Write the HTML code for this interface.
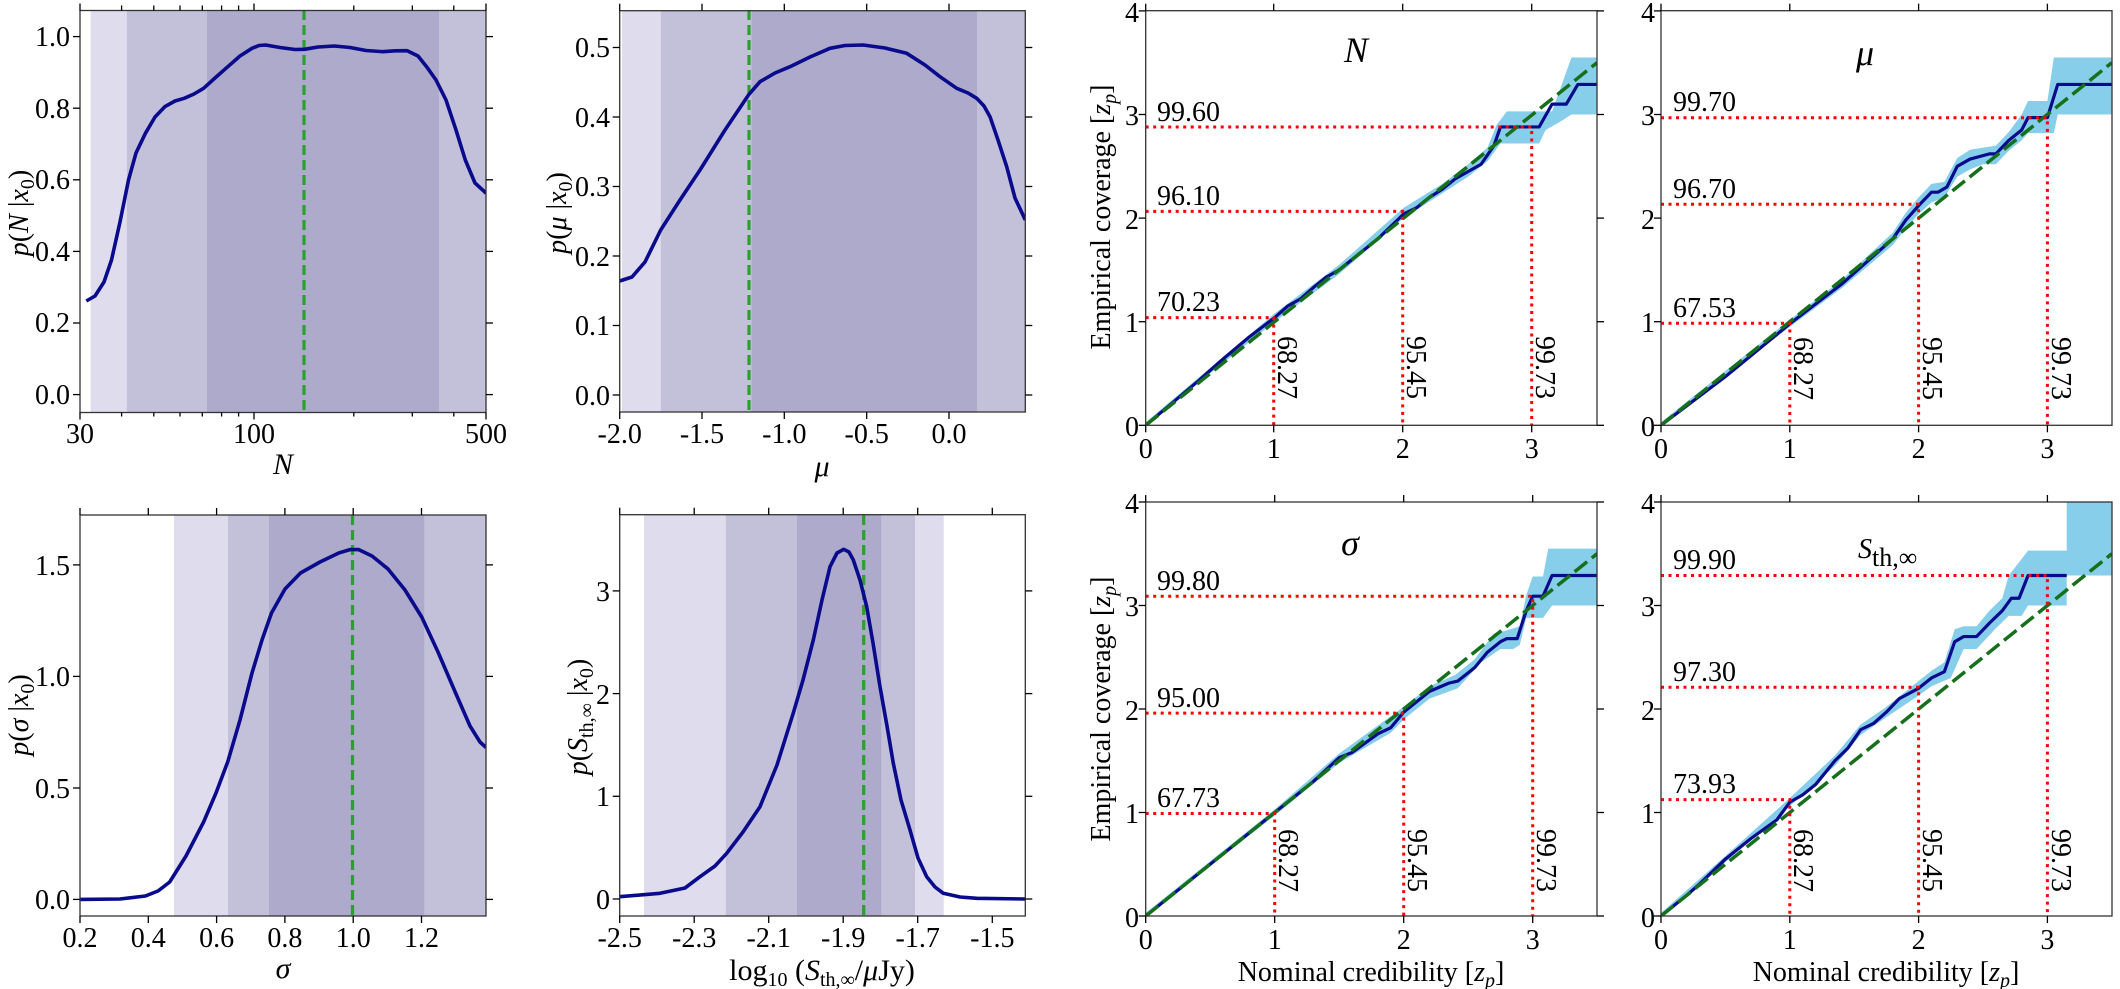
<!DOCTYPE html>
<html><head><meta charset="utf-8"><style>
html,body{margin:0;padding:0;background:#fff;}
svg{display:block;font-family:"Liberation Serif",serif;}
.t{font-size:28px;fill:#000;}
.it{font-style:italic;}
</style></head><body>
<svg width="2120" height="989" viewBox="0 0 2120 989" xmlns="http://www.w3.org/2000/svg">
<defs>
<clipPath id="c1"><rect x="80" y="10.5" width="406" height="402"/></clipPath>
<clipPath id="c2"><rect x="619.7" y="10.5" width="405.6" height="401.5"/></clipPath>
<clipPath id="c3"><rect x="80" y="515" width="406" height="401"/></clipPath>
<clipPath id="c4"><rect x="619.7" y="515" width="405.6" height="401"/></clipPath>
<clipPath id="c5"><rect x="1145.7" y="10.7" width="451.3" height="414.6"/></clipPath>
<clipPath id="c6"><rect x="1661" y="10.7" width="451" height="414.6"/></clipPath>
<clipPath id="c7"><rect x="1145.7" y="502" width="451.3" height="414"/></clipPath>
<clipPath id="c8"><rect x="1661" y="502" width="451" height="414"/></clipPath>
</defs>

<!-- ===== Panel 1: N posterior ===== -->
<g clip-path="url(#c1)">
<rect x="90.7" y="10" width="36" height="403" fill="#dfdded"/>
<rect x="126.7" y="10" width="80.3" height="403" fill="#c3c0da"/>
<rect x="207" y="10" width="232" height="403" fill="#adaacb"/>
<rect x="439" y="10" width="47" height="403" fill="#c3c0da"/>
<line x1="304" y1="10" x2="304" y2="413" stroke="#2ca02c" stroke-width="3.2" stroke-dasharray="10 5"/>
<polyline fill="none" stroke="#0a0a8c" stroke-width="3.6" stroke-linejoin="round" points="86.3,301 95,296 104,282 111.5,260 120,222 128.5,180 136,153 145.4,133.3 155,117 164.8,106.7 175,101 184.2,98.3 194,94 203.6,88.3 215,78 227.8,66.7 240,56 252,48.3 259,45.5 265.6,45 280,47.5 295,49.5 304.4,49.3 318,47 334.5,46 350,47.5 366,50.5 383,51.7 395,50.8 407.2,50.7 418,56 426.6,66.7 436,80 446,100 456,130 465.3,160 475,183 486.2,193.3"/>
</g>
<rect x="80" y="10.5" width="406" height="402" fill="none" stroke="#333" stroke-width="1.3"/>
<g stroke="#000" stroke-width="1.3">
<line x1="73" y1="394.6" x2="80" y2="394.6"/><line x1="73" y1="323" x2="80" y2="323"/><line x1="73" y1="251.4" x2="80" y2="251.4"/><line x1="73" y1="179.8" x2="80" y2="179.8"/><line x1="73" y1="108.2" x2="80" y2="108.2"/><line x1="73" y1="36.6" x2="80" y2="36.6"/>
<line x1="486" y1="394.6" x2="493" y2="394.6"/><line x1="486" y1="323" x2="493" y2="323"/><line x1="486" y1="251.4" x2="493" y2="251.4"/><line x1="486" y1="179.8" x2="493" y2="179.8"/><line x1="486" y1="108.2" x2="493" y2="108.2"/><line x1="486" y1="36.6" x2="493" y2="36.6"/>
<line x1="80" y1="412.5" x2="80" y2="419.5"/><line x1="254" y1="412.5" x2="254" y2="419.5"/><line x1="486" y1="412.5" x2="486" y2="419.5"/>
<line x1="121.6" y1="412.5" x2="121.6" y2="416.5"/><line x1="153.8" y1="412.5" x2="153.8" y2="416.5"/><line x1="180" y1="412.5" x2="180" y2="416.5"/><line x1="202.3" y1="412.5" x2="202.3" y2="416.5"/><line x1="221.6" y1="412.5" x2="221.6" y2="416.5"/><line x1="238.6" y1="412.5" x2="238.6" y2="416.5"/><line x1="353.8" y1="412.5" x2="353.8" y2="416.5"/><line x1="412.3" y1="412.5" x2="412.3" y2="416.5"/><line x1="453.8" y1="412.5" x2="453.8" y2="416.5"/>
<line x1="80" y1="10.5" x2="80" y2="3.5"/><line x1="254" y1="10.5" x2="254" y2="3.5"/><line x1="486" y1="10.5" x2="486" y2="3.5"/>
<line x1="121.6" y1="10.5" x2="121.6" y2="5.5"/><line x1="153.8" y1="10.5" x2="153.8" y2="5.5"/><line x1="180" y1="10.5" x2="180" y2="5.5"/><line x1="202.3" y1="10.5" x2="202.3" y2="5.5"/><line x1="221.6" y1="10.5" x2="221.6" y2="5.5"/><line x1="238.6" y1="10.5" x2="238.6" y2="5.5"/><line x1="353.8" y1="10.5" x2="353.8" y2="5.5"/><line x1="412.3" y1="10.5" x2="412.3" y2="5.5"/><line x1="453.8" y1="10.5" x2="453.8" y2="5.5"/>
</g>
<g class="t" text-anchor="end">
<text x="70" y="404">0.0</text><text x="70" y="332">0.2</text><text x="70" y="261">0.4</text><text x="70" y="189">0.6</text><text x="70" y="118">0.8</text><text x="70" y="46">1.0</text>
</g>
<g class="t" text-anchor="middle">
<text x="80" y="443">30</text><text x="254" y="443">100</text><text x="486" y="443">500</text>
<text x="283" y="474" class="it" font-size="30">N</text>
</g>
<text class="t" font-size="30" transform="translate(28,213) rotate(-90)" text-anchor="middle"><tspan class="it">p</tspan>(<tspan class="it">N</tspan> |<tspan class="it">x</tspan><tspan font-size="20" dy="6">0</tspan><tspan dy="-6">)</tspan></text>

<!-- ===== Panel 2: mu posterior ===== -->
<g clip-path="url(#c2)">
<rect x="622" y="10" width="38.7" height="403" fill="#dfdded"/>
<rect x="660.7" y="10" width="90.6" height="403" fill="#c3c0da"/>
<rect x="751.3" y="10" width="225.7" height="403" fill="#adaacb"/>
<rect x="977" y="10" width="49" height="403" fill="#c3c0da"/>
<line x1="749" y1="10" x2="749" y2="413" stroke="#2ca02c" stroke-width="3.2" stroke-dasharray="10 5"/>
<polyline fill="none" stroke="#0a0a8c" stroke-width="3.6" stroke-linejoin="round" points="619.7,281 632,277 645,262 660.7,230 680,200 700,170 725,130 749,94.3 760,81.7 775,73 790,66.7 810,57 830,48.3 845,45.5 863.3,45 885,48 906.7,53.3 925,65 940,76.7 956.7,88.3 968,93 976.7,98.3 984,106 990,116.7 998,140 1006.7,166.7 1015,198 1025.3,220"/>
</g>
<rect x="619.7" y="10.7" width="405.6" height="401.3" fill="none" stroke="#333" stroke-width="1.3"/>
<g stroke="#000" stroke-width="1.3">
<line x1="612.7" y1="395" x2="619.7" y2="395"/><line x1="612.7" y1="325.5" x2="619.7" y2="325.5"/><line x1="612.7" y1="256" x2="619.7" y2="256"/><line x1="612.7" y1="186.5" x2="619.7" y2="186.5"/><line x1="612.7" y1="117" x2="619.7" y2="117"/><line x1="612.7" y1="47.5" x2="619.7" y2="47.5"/>
<line x1="1025.3" y1="395" x2="1032.3" y2="395"/><line x1="1025.3" y1="325.5" x2="1032.3" y2="325.5"/><line x1="1025.3" y1="256" x2="1032.3" y2="256"/><line x1="1025.3" y1="186.5" x2="1032.3" y2="186.5"/><line x1="1025.3" y1="117" x2="1032.3" y2="117"/><line x1="1025.3" y1="47.5" x2="1032.3" y2="47.5"/>
<line x1="619.7" y1="412" x2="619.7" y2="419"/><line x1="702" y1="412" x2="702" y2="419"/><line x1="784.3" y1="412" x2="784.3" y2="419"/><line x1="866.7" y1="412" x2="866.7" y2="419"/><line x1="949" y1="412" x2="949" y2="419"/>
<line x1="619.7" y1="10.7" x2="619.7" y2="3.7"/><line x1="702" y1="10.7" x2="702" y2="3.7"/><line x1="784.3" y1="10.7" x2="784.3" y2="3.7"/><line x1="866.7" y1="10.7" x2="866.7" y2="3.7"/><line x1="949" y1="10.7" x2="949" y2="3.7"/>
</g>
<g class="t" text-anchor="end">
<text x="610" y="405">0.0</text><text x="610" y="335">0.1</text><text x="610" y="266">0.2</text><text x="610" y="196">0.3</text><text x="610" y="127">0.4</text><text x="610" y="57">0.5</text>
</g>
<g class="t" text-anchor="middle">
<text x="619.7" y="443">-2.0</text><text x="702" y="443">-1.5</text><text x="784.3" y="443">-1.0</text><text x="866.7" y="443">-0.5</text><text x="949" y="443">0.0</text>
<text x="822" y="476" class="it" font-size="30">μ</text>
</g>
<text class="t" font-size="30" transform="translate(566,213) rotate(-90)" text-anchor="middle"><tspan class="it">p</tspan>(<tspan class="it">μ</tspan> |<tspan class="it">x</tspan><tspan font-size="20" dy="6">0</tspan><tspan dy="-6">)</tspan></text>

<!-- ===== Panel 3: sigma posterior ===== -->
<g clip-path="url(#c3)">
<rect x="174" y="515" width="54" height="401" fill="#dfdded"/>
<rect x="228" y="515" width="41" height="401" fill="#c3c0da"/>
<rect x="269" y="515" width="155.7" height="401" fill="#adaacb"/>
<rect x="424.7" y="515" width="62" height="401" fill="#c3c0da"/>
<line x1="352.5" y1="515" x2="352.5" y2="916" stroke="#2ca02c" stroke-width="3.2" stroke-dasharray="10 5"/>
<polyline fill="none" stroke="#0a0a8c" stroke-width="3.6" stroke-linejoin="round" points="80,899.4 120,899 145.4,896 158,891 169.7,882 186,856 203.6,822 216,793 227.8,761.6 240,720 252,673 262,640 271.5,613 285,589 300.5,573 320,562 339.3,552.8 350,549.6 358.7,549.6 372,556 387.8,568.8 405,590 421.7,617 438,652 455.6,693 470,726 480,742 486,747.5"/>
</g>
<rect x="80" y="515" width="406" height="401" fill="none" stroke="#333" stroke-width="1.3"/>
<g stroke="#000" stroke-width="1.3">
<line x1="73" y1="899.4" x2="80" y2="899.4"/><line x1="73" y1="788" x2="80" y2="788"/><line x1="73" y1="676.4" x2="80" y2="676.4"/><line x1="73" y1="564.9" x2="80" y2="564.9"/>
<line x1="486" y1="899.4" x2="493" y2="899.4"/><line x1="486" y1="788" x2="493" y2="788"/><line x1="486" y1="676.4" x2="493" y2="676.4"/><line x1="486" y1="564.9" x2="493" y2="564.9"/>
<line x1="80" y1="916" x2="80" y2="923"/><line x1="148.3" y1="916" x2="148.3" y2="923"/><line x1="216.6" y1="916" x2="216.6" y2="923"/><line x1="284.9" y1="916" x2="284.9" y2="923"/><line x1="353.2" y1="916" x2="353.2" y2="923"/><line x1="421.5" y1="916" x2="421.5" y2="923"/>
<line x1="80" y1="515" x2="80" y2="508"/><line x1="148.3" y1="515" x2="148.3" y2="508"/><line x1="216.6" y1="515" x2="216.6" y2="508"/><line x1="284.9" y1="515" x2="284.9" y2="508"/><line x1="353.2" y1="515" x2="353.2" y2="508"/><line x1="421.5" y1="515" x2="421.5" y2="508"/>
</g>
<g class="t" text-anchor="end">
<text x="70" y="909">0.0</text><text x="70" y="798">0.5</text><text x="70" y="686">1.0</text><text x="70" y="575">1.5</text>
</g>
<g class="t" text-anchor="middle">
<text x="80" y="947">0.2</text><text x="148.3" y="947">0.4</text><text x="216.6" y="947">0.6</text><text x="284.9" y="947">0.8</text><text x="353.2" y="947">1.0</text><text x="421.5" y="947">1.2</text>
<text x="283" y="978" class="it" font-size="30">σ</text>
</g>
<text class="t" font-size="30" transform="translate(28,715) rotate(-90)" text-anchor="middle"><tspan class="it">p</tspan>(<tspan class="it">σ</tspan> |<tspan class="it">x</tspan><tspan font-size="20" dy="6">0</tspan><tspan dy="-6">)</tspan></text>

<!-- ===== Panel 4: S posterior ===== -->
<g clip-path="url(#c4)">
<rect x="644" y="515" width="81.7" height="401" fill="#dfdded"/>
<rect x="725.7" y="515" width="71" height="401" fill="#c3c0da"/>
<rect x="796.7" y="515" width="85" height="401" fill="#adaacb"/>
<rect x="881.7" y="515" width="33.3" height="401" fill="#c3c0da"/>
<rect x="915" y="515" width="28.7" height="401" fill="#dfdded"/>
<line x1="863.7" y1="515" x2="863.7" y2="916" stroke="#2ca02c" stroke-width="3.2" stroke-dasharray="10 5"/>
<polyline fill="none" stroke="#0a0a8c" stroke-width="3.6" stroke-linejoin="round" points="619.7,896.7 660,893.3 685,888 700,876.7 715,866 726.7,853.3 743,832 760,806.7 777,765 793.3,713 803,680 813.3,640 822,600 830,566.7 837,553 843.7,549.3 849,552 853.3,560 860,580 866.7,606.7 873,643 880,686.7 887,726 893.3,763.3 901,800 910,830 918,858 926.7,876.7 935,887 943.3,893.3 960,897 976.7,898.3 1025.3,899"/>
</g>
<rect x="619.7" y="514.7" width="405.6" height="401.3" fill="none" stroke="#333" stroke-width="1.3"/>
<g stroke="#000" stroke-width="1.3">
<line x1="612.7" y1="899" x2="619.7" y2="899"/><line x1="612.7" y1="796.3" x2="619.7" y2="796.3"/><line x1="612.7" y1="693.6" x2="619.7" y2="693.6"/><line x1="612.7" y1="590.9" x2="619.7" y2="590.9"/>
<line x1="1025.3" y1="899" x2="1032.3" y2="899"/><line x1="1025.3" y1="796.3" x2="1032.3" y2="796.3"/><line x1="1025.3" y1="693.6" x2="1032.3" y2="693.6"/><line x1="1025.3" y1="590.9" x2="1032.3" y2="590.9"/>
<line x1="619.7" y1="916" x2="619.7" y2="923"/><line x1="694.2" y1="916" x2="694.2" y2="923"/><line x1="768.7" y1="916" x2="768.7" y2="923"/><line x1="843.2" y1="916" x2="843.2" y2="923"/><line x1="917.7" y1="916" x2="917.7" y2="923"/><line x1="992.3" y1="916" x2="992.3" y2="923"/>
<line x1="619.7" y1="514.7" x2="619.7" y2="507.7"/><line x1="694.2" y1="514.7" x2="694.2" y2="507.7"/><line x1="768.7" y1="514.7" x2="768.7" y2="507.7"/><line x1="843.2" y1="514.7" x2="843.2" y2="507.7"/><line x1="917.7" y1="514.7" x2="917.7" y2="507.7"/><line x1="992.3" y1="514.7" x2="992.3" y2="507.7"/>
</g>
<g class="t" text-anchor="end">
<text x="610" y="909">0</text><text x="610" y="806">1</text><text x="610" y="704">2</text><text x="610" y="601">3</text>
</g>
<g class="t" text-anchor="middle">
<text x="619.7" y="947">-2.5</text><text x="694.2" y="947">-2.3</text><text x="768.7" y="947">-2.1</text><text x="843.2" y="947">-1.9</text><text x="917.7" y="947">-1.7</text><text x="992.3" y="947">-1.5</text>
<text x="822" y="980" font-size="30">log<tspan font-size="20" dy="6">10</tspan><tspan dy="-6"> (</tspan><tspan class="it">S</tspan><tspan font-size="20" dy="6">th,∞</tspan><tspan dy="-6">/</tspan><tspan class="it">μ</tspan>Jy)</text>
</g>
<text class="t" font-size="30" transform="translate(587,717) rotate(-90)" text-anchor="middle"><tspan class="it">p</tspan>(<tspan class="it">S</tspan><tspan font-size="20" dy="6">th,∞</tspan><tspan dy="-6"> |</tspan><tspan class="it">x</tspan><tspan font-size="20" dy="6">0</tspan><tspan dy="-6">)</tspan></text>

<!-- ===== Panel 5: N coverage ===== -->
<g clip-path="url(#c5)">
<g transform="matrix(129,0,0,-103.6,1145.7,425.3)">
<polygon fill="#87ceeb" points="0,0.03 1,1.08 1.5,1.55 2,2.1 2.3,2.33 2.5,2.52 2.65,2.68 2.72,2.9 2.8,3.03 3.15,3.03 3.2,3.2 3.3,3.55 3.5,3.55 3.5,3.0 3.3,3.0 3.2,2.92 3.1,2.85 3.05,2.72 2.75,2.72 2.65,2.55 2.5,2.4 2,2.0 1.5,1.46 1,1.0 0,0"/>
<polyline fill="none" stroke="#0a0a8c" stroke-width="3.2" vector-effect="non-scaling-stroke" stroke-linejoin="round" points="0,0 0.2,0.21 0.4,0.42 0.6,0.64 0.8,0.85 1,1.04 1.1,1.15 1.2,1.22 1.3,1.33 1.4,1.43 1.5,1.5 1.6,1.6 1.7,1.7 1.8,1.8 1.9,1.92 2,2.04 2.05,2.07 2.1,2.1 2.2,2.2 2.3,2.28 2.4,2.38 2.5,2.45 2.6,2.52 2.7,2.7 2.75,2.88 3.05,2.88 3.15,3.1 3.26,3.1 3.35,3.29 3.5,3.29"/>
</g>
<line x1="1145.7" y1="425.3" x2="1597" y2="62.7" stroke="#16701b" stroke-width="3.5" stroke-dasharray="16 6"/>
<g stroke="#ff0000" stroke-width="3" stroke-dasharray="3 4.5" fill="none">
<polyline points="1145.7,317.6 1273.7,317.6 1273.7,425.3"/>
<polyline points="1145.7,211.4 1402.7,211.4 1402.7,425.3"/>
<polyline points="1145.7,127 1531.7,127 1531.7,425.3"/>
</g>
</g>
<rect x="1145.7" y="10.7" width="451.3" height="414.6" fill="none" stroke="#333" stroke-width="1.3"/>
<g stroke="#000" stroke-width="1.3">
<line x1="1138.7" y1="425.3" x2="1145.7" y2="425.3"/><line x1="1138.7" y1="321.7" x2="1145.7" y2="321.7"/><line x1="1138.7" y1="218.1" x2="1145.7" y2="218.1"/><line x1="1138.7" y1="114.5" x2="1145.7" y2="114.5"/><line x1="1138.7" y1="10.9" x2="1145.7" y2="10.9"/>
<line x1="1597" y1="425.3" x2="1604" y2="425.3"/><line x1="1597" y1="321.7" x2="1604" y2="321.7"/><line x1="1597" y1="218.1" x2="1604" y2="218.1"/><line x1="1597" y1="114.5" x2="1604" y2="114.5"/><line x1="1597" y1="10.9" x2="1604" y2="10.9"/>
<line x1="1145.7" y1="425.3" x2="1145.7" y2="432.3"/><line x1="1273.7" y1="425.3" x2="1273.7" y2="432.3"/><line x1="1402.7" y1="425.3" x2="1402.7" y2="432.3"/><line x1="1531.7" y1="425.3" x2="1531.7" y2="432.3"/>
<line x1="1145.7" y1="10.7" x2="1145.7" y2="3.7"/><line x1="1273.7" y1="10.7" x2="1273.7" y2="3.7"/><line x1="1402.7" y1="10.7" x2="1402.7" y2="3.7"/><line x1="1531.7" y1="10.7" x2="1531.7" y2="3.7"/>
</g>
<g class="t" font-size="30" text-anchor="end">
<text x="1139" y="436">0</text><text x="1139" y="332">1</text><text x="1139" y="229">2</text><text x="1139" y="125">3</text><text x="1139" y="22">4</text>
</g>
<g class="t" font-size="30" text-anchor="middle">
<text x="1145.7" y="458">0</text><text x="1273.7" y="458">1</text><text x="1402.7" y="458">2</text><text x="1531.7" y="458">3</text>
<text x="1356" y="62" class="it" font-size="36">N</text>
</g>
<g class="t">
<text x="1157" y="311">70.23</text><text x="1157" y="205">96.10</text><text x="1157" y="121">99.60</text>
<text transform="translate(1278,336) rotate(90)">68.27</text><text transform="translate(1407,336) rotate(90)">95.45</text><text transform="translate(1536,336) rotate(90)">99.73</text>
</g>
<text class="t" font-size="30" transform="translate(1110,217) rotate(-90)" text-anchor="middle">Empirical coverage [<tspan class="it">z</tspan><tspan class="it" font-size="20" dy="6">p</tspan><tspan dy="-6">]</tspan></text>

<!-- ===== Panel 6: mu coverage ===== -->
<g clip-path="url(#c6)">
<g transform="matrix(128.8,0,0,-103.6,1661,425.3)">
<polygon fill="#87ceeb" points="0,0.03 1,1.02 1.4,1.4 1.8,1.86 1.9,2.05 2,2.2 2.1,2.33 2.2,2.35 2.3,2.58 2.4,2.66 2.6,2.7 2.7,2.83 2.8,3.0 2.85,3.13 3.0,3.13 3.05,3.55 3.5,3.55 3.5,3.0 3.08,3.0 3.05,2.82 2.85,2.82 2.8,2.75 2.7,2.65 2.6,2.52 2.5,2.52 2.4,2.47 2.3,2.4 2.2,2.2 2.1,2.15 2,2.04 1.9,1.9 1.8,1.74 1.4,1.32 1,0.95 0,0"/>
<polyline fill="none" stroke="#0a0a8c" stroke-width="3.2" vector-effect="non-scaling-stroke" stroke-linejoin="round" points="0,0 0.5,0.47 1,0.98 1.4,1.36 1.8,1.8 1.9,1.98 2,2.12 2.1,2.25 2.15,2.25 2.22,2.3 2.3,2.5 2.4,2.57 2.55,2.62 2.6,2.62 2.7,2.75 2.8,2.85 2.85,2.97 3.0,2.97 3.08,3.29 3.5,3.29"/>
</g>
<line x1="1661" y1="425.3" x2="2111.8" y2="62.7" stroke="#16701b" stroke-width="3.5" stroke-dasharray="16 6"/>
<g stroke="#ff0000" stroke-width="3" stroke-dasharray="3 4.5" fill="none">
<polyline points="1661,323.3 1789.8,323.3 1789.8,425.3"/>
<polyline points="1661,204.3 1918.6,204.3 1918.6,425.3"/>
<polyline points="1661,117.8 2047.4,117.8 2047.4,425.3"/>
</g>
</g>
<rect x="1661" y="10.7" width="451" height="414.6" fill="none" stroke="#333" stroke-width="1.3"/>
<g stroke="#000" stroke-width="1.3">
<line x1="1654" y1="425.3" x2="1661" y2="425.3"/><line x1="1654" y1="321.7" x2="1661" y2="321.7"/><line x1="1654" y1="218.1" x2="1661" y2="218.1"/><line x1="1654" y1="114.5" x2="1661" y2="114.5"/><line x1="1654" y1="10.9" x2="1661" y2="10.9"/>
<line x1="1661" y1="425.3" x2="1661" y2="432.3"/><line x1="1789.8" y1="425.3" x2="1789.8" y2="432.3"/><line x1="1918.6" y1="425.3" x2="1918.6" y2="432.3"/><line x1="2047.4" y1="425.3" x2="2047.4" y2="432.3"/>
<line x1="1661" y1="10.7" x2="1661" y2="3.7"/><line x1="1789.8" y1="10.7" x2="1789.8" y2="3.7"/><line x1="1918.6" y1="10.7" x2="1918.6" y2="3.7"/><line x1="2047.4" y1="10.7" x2="2047.4" y2="3.7"/>
</g>
<g class="t" font-size="30" text-anchor="end">
<text x="1655" y="436">0</text><text x="1655" y="332">1</text><text x="1655" y="229">2</text><text x="1655" y="125">3</text><text x="1655" y="22">4</text>
</g>
<g class="t" font-size="30" text-anchor="middle">
<text x="1661" y="458">0</text><text x="1789.8" y="458">1</text><text x="1918.6" y="458">2</text><text x="2047.4" y="458">3</text>
<text x="1865" y="65" class="it" font-size="36">μ</text>
</g>
<g class="t">
<text x="1673" y="317">67.53</text><text x="1673" y="198">96.70</text><text x="1673" y="111">99.70</text>
<text transform="translate(1794,337) rotate(90)">68.27</text><text transform="translate(1923,337) rotate(90)">95.45</text><text transform="translate(2052,337) rotate(90)">99.73</text>
</g>

<!-- ===== Panel 7: sigma coverage ===== -->
<g clip-path="url(#c7)">
<g transform="matrix(129,0,0,-103.5,1145.7,916)">
<polygon fill="#87ceeb" points="0,0.03 1,1.03 1.5,1.57 2,2.02 2.2,2.22 2.4,2.33 2.55,2.48 2.7,2.73 2.8,2.76 2.9,2.8 2.95,3.1 3.0,3.28 3.08,3.28 3.12,3.55 3.5,3.55 3.5,3.0 3.15,3.0 3.08,2.88 2.95,2.88 2.9,2.62 2.85,2.58 2.75,2.58 2.6,2.45 2.42,2.2 2.2,2.1 2,1.9 1.9,1.77 1.5,1.48 1,0.97 0,0"/>
<polyline fill="none" stroke="#0a0a8c" stroke-width="3.2" vector-effect="non-scaling-stroke" stroke-linejoin="round" points="0,0 0.5,0.5 1,1 1.3,1.3 1.5,1.53 1.6,1.58 1.8,1.76 1.9,1.82 2,1.97 2.2,2.17 2.35,2.25 2.42,2.27 2.55,2.4 2.65,2.55 2.75,2.65 2.8,2.68 2.88,2.68 2.95,2.95 3.0,3.09 3.08,3.09 3.15,3.29 3.5,3.29"/>
</g>
<line x1="1145.7" y1="916" x2="1597" y2="553.8" stroke="#16701b" stroke-width="3.5" stroke-dasharray="16 6"/>
<g stroke="#ff0000" stroke-width="3" stroke-dasharray="3 4.5" fill="none">
<polyline points="1145.7,813.5 1274.7,813.5 1274.7,916"/>
<polyline points="1145.7,713.1 1403.7,713.1 1403.7,916"/>
<polyline points="1145.7,596.2 1532.7,596.2 1532.7,916"/>
</g>
</g>
<rect x="1145.7" y="502" width="451.3" height="414" fill="none" stroke="#333" stroke-width="1.3"/>
<g stroke="#000" stroke-width="1.3">
<line x1="1138.7" y1="916" x2="1145.7" y2="916"/><line x1="1138.7" y1="812.5" x2="1145.7" y2="812.5"/><line x1="1138.7" y1="709" x2="1145.7" y2="709"/><line x1="1138.7" y1="605.5" x2="1145.7" y2="605.5"/><line x1="1138.7" y1="502" x2="1145.7" y2="502"/>
<line x1="1597" y1="916" x2="1604" y2="916"/><line x1="1597" y1="812.5" x2="1604" y2="812.5"/><line x1="1597" y1="709" x2="1604" y2="709"/><line x1="1597" y1="605.5" x2="1604" y2="605.5"/><line x1="1597" y1="502" x2="1604" y2="502"/>
<line x1="1145.7" y1="916" x2="1145.7" y2="923"/><line x1="1274.7" y1="916" x2="1274.7" y2="923"/><line x1="1403.7" y1="916" x2="1403.7" y2="923"/><line x1="1532.7" y1="916" x2="1532.7" y2="923"/>
<line x1="1145.7" y1="502" x2="1145.7" y2="495"/><line x1="1274.7" y1="502" x2="1274.7" y2="495"/><line x1="1403.7" y1="502" x2="1403.7" y2="495"/><line x1="1532.7" y1="502" x2="1532.7" y2="495"/>
</g>
<g class="t" font-size="30" text-anchor="end">
<text x="1139" y="927">0</text><text x="1139" y="823">1</text><text x="1139" y="720">2</text><text x="1139" y="616">3</text><text x="1139" y="513">4</text>
</g>
<g class="t" font-size="30" text-anchor="middle">
<text x="1145.7" y="949">0</text><text x="1274.7" y="949">1</text><text x="1403.7" y="949">2</text><text x="1532.7" y="949">3</text>
<text x="1350" y="555" class="it" font-size="36">σ</text>
<text x="1371" y="981">Nominal credibility [<tspan class="it">z</tspan><tspan class="it" font-size="20" dy="6">p</tspan><tspan dy="-6">]</tspan></text>
</g>
<g class="t">
<text x="1157" y="807">67.73</text><text x="1157" y="707">95.00</text><text x="1157" y="590">99.80</text>
<text transform="translate(1279,829) rotate(90)">68.27</text><text transform="translate(1408,829) rotate(90)">95.45</text><text transform="translate(1537,829) rotate(90)">99.73</text>
</g>
<text class="t" font-size="30" transform="translate(1110,709) rotate(-90)" text-anchor="middle">Empirical coverage [<tspan class="it">z</tspan><tspan class="it" font-size="20" dy="6">p</tspan><tspan dy="-6">]</tspan></text>

<!-- ===== Panel 8: S coverage ===== -->
<g clip-path="url(#c8)">
<g transform="matrix(128.8,0,0,-103.5,1661,916)">
<polygon fill="#87ceeb" points="0,0.03 0.5,0.58 1,1.14 1.35,1.55 1.55,1.85 1.75,2.02 2,2.27 2.1,2.37 2.2,2.45 2.28,2.77 2.35,2.8 2.45,2.8 2.55,2.95 2.65,3.07 2.7,3.29 2.85,3.53 3.15,3.53 3.15,4.0 3.5,4.0 3.5,3.29 3.15,3.29 3.15,3.0 2.85,3.0 2.8,2.9 2.7,2.9 2.6,2.78 2.45,2.58 2.35,2.58 2.25,2.3 2.1,2.22 2,2.13 1.75,1.92 1.55,1.75 1.35,1.45 1,1.06 0.5,0.52 0,0"/>
<polyline fill="none" stroke="#0a0a8c" stroke-width="3.2" vector-effect="non-scaling-stroke" stroke-linejoin="round" points="0,0 0.2,0.2 0.3,0.31 0.5,0.55 0.7,0.75 0.9,0.93 1,1.1 1.1,1.17 1.2,1.27 1.35,1.5 1.45,1.62 1.55,1.8 1.65,1.86 1.75,1.97 1.85,2.1 2,2.2 2.1,2.3 2.2,2.36 2.28,2.65 2.35,2.7 2.45,2.7 2.55,2.83 2.65,2.95 2.72,3.07 2.78,3.07 2.85,3.29 3.15,3.29"/>
</g>
<line x1="1661" y1="916" x2="2111.8" y2="553.8" stroke="#16701b" stroke-width="3.5" stroke-dasharray="16 6"/>
<g stroke="#ff0000" stroke-width="3" stroke-dasharray="3 4.5" fill="none">
<polyline points="1661,799.6 1789.8,799.6 1789.8,916"/>
<polyline points="1661,687.3 1918.6,687.3 1918.6,916"/>
<polyline points="1661,575.5 2047.4,575.5 2047.4,916"/>
</g>
</g>
<rect x="1661" y="502" width="451" height="414" fill="none" stroke="#333" stroke-width="1.3"/>
<g stroke="#000" stroke-width="1.3">
<line x1="1654" y1="916" x2="1661" y2="916"/><line x1="1654" y1="812.5" x2="1661" y2="812.5"/><line x1="1654" y1="709" x2="1661" y2="709"/><line x1="1654" y1="605.5" x2="1661" y2="605.5"/><line x1="1654" y1="502" x2="1661" y2="502"/>
<line x1="1661" y1="916" x2="1661" y2="923"/><line x1="1789.8" y1="916" x2="1789.8" y2="923"/><line x1="1918.6" y1="916" x2="1918.6" y2="923"/><line x1="2047.4" y1="916" x2="2047.4" y2="923"/>
<line x1="1661" y1="502" x2="1661" y2="495"/><line x1="1789.8" y1="502" x2="1789.8" y2="495"/><line x1="1918.6" y1="502" x2="1918.6" y2="495"/><line x1="2047.4" y1="502" x2="2047.4" y2="495"/>
</g>
<g class="t" font-size="30" text-anchor="end">
<text x="1655" y="927">0</text><text x="1655" y="823">1</text><text x="1655" y="720">2</text><text x="1655" y="616">3</text><text x="1655" y="513">4</text>
</g>
<g class="t" font-size="30" text-anchor="middle">
<text x="1661" y="949">0</text><text x="1789.8" y="949">1</text><text x="1918.6" y="949">2</text><text x="2047.4" y="949">3</text>
<text x="1886" y="981">Nominal credibility [<tspan class="it">z</tspan><tspan class="it" font-size="20" dy="6">p</tspan><tspan dy="-6">]</tspan></text>
</g>
<text class="t" x="1858" y="558" font-size="36"><tspan class="it">S</tspan><tspan font-size="26" dy="8">th,∞</tspan></text>
<g class="t">
<text x="1673" y="793">73.93</text><text x="1673" y="681">97.30</text><text x="1673" y="569">99.90</text>
<text transform="translate(1794,829) rotate(90)">68.27</text><text transform="translate(1923,829) rotate(90)">95.45</text><text transform="translate(2052,829) rotate(90)">99.73</text>
</g>
</svg>
</body></html>
